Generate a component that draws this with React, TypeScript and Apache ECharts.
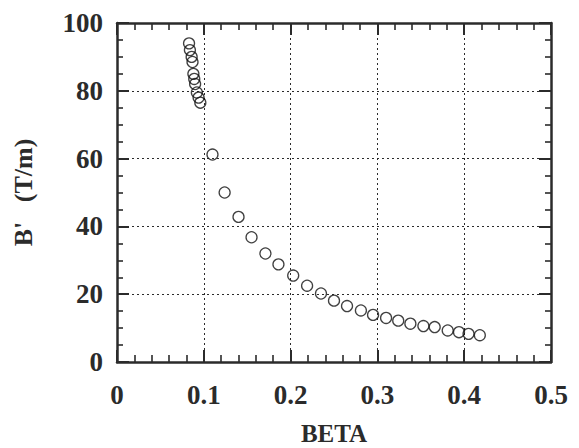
import React, { useEffect, useRef } from "react";
import * as echarts from "echarts";

const betaValues = [
  0.083, 0.084, 0.086, 0.087, 0.088, 0.089, 0.09, 0.092, 0.094, 0.096,
  0.11, 0.124, 0.14, 0.155, 0.171, 0.186, 0.203, 0.219, 0.235, 0.25,
  0.265, 0.281, 0.295, 0.31, 0.324, 0.338, 0.353, 0.366, 0.381, 0.394,
  0.405, 0.418,
];
const gradientValues = [
  94, 92, 90, 88.5, 85, 83.5, 82, 79.5, 78, 76.5,
  61.2, 50, 42.8, 36.8, 32, 28.8, 25.5, 22.5, 20.2, 18.1,
  16.5, 15.2, 13.9, 13, 12.2, 11.3, 10.6, 10.3, 9.3, 8.8,
  8.3, 7.9,
];
const xAxisTitle = "BETA";
const yAxisTitle = "B'   (T/m)";

const INK = "#2b2b2b";
const FONT = "'Liberation Serif', 'DejaVu Serif', serif";

export default function App() {
  const ref = useRef<HTMLDivElement>(null);
  useEffect(() => {
    if (!ref.current) return;
    const chart = echarts.init(ref.current, undefined, { renderer: "svg" });
    const frameLine = { show: true, onZero: false, lineStyle: { color: INK, width: 2.5 } };
    const majorTick = { show: true, inside: true, length: 12, lineStyle: { color: INK, width: 2 } };
    const minorTickX = { show: true, splitNumber: 5, length: 7, lineStyle: { color: INK, width: 1.6 } };
    const minorTickY = { show: true, splitNumber: 4, length: 6, lineStyle: { color: INK, width: 1.6 } };
    const labelStyle = { color: INK, fontFamily: FONT, fontWeight: "bold" as const, fontSize: 27 };
    const gridLine = { show: true, lineStyle: { color: INK, type: [2, 3] as any, width: 1 } };
    chart.setOption({
      animation: false,
      backgroundColor: "#ffffff",
      grid: { left: 117, right: 28, top: 23, bottom: 86, containLabel: false, outerBoundsMode: "none" },
      xAxis: [
        {
          type: "value",
          min: 0,
          max: 0.5,
          interval: 0.1,
          position: "bottom",
          axisLine: frameLine,
          axisTick: majorTick,
          minorTick: minorTickX,
          splitLine: gridLine,
          axisLabel: { ...labelStyle, margin: 19, formatter: (v: number) => (v === 0 ? "0" : String(+v.toFixed(1))) },
          name: xAxisTitle,
          nameLocation: "middle",
          nameGap: 59,
          nameTextStyle: { ...labelStyle, fontSize: 25 },
        },
        {
          type: "value",
          min: 0,
          max: 0.5,
          interval: 0.1,
          position: "top",
          axisLine: frameLine,
          axisTick: majorTick,
          minorTick: minorTickX,
          splitLine: { show: false },
          axisLabel: { show: false },
        },
      ],
      yAxis: [
        {
          type: "value",
          min: 0,
          max: 100,
          interval: 20,
          position: "left",
          axisLine: frameLine,
          axisTick: majorTick,
          minorTick: minorTickY,
          splitLine: gridLine,
          axisLabel: { ...labelStyle, margin: 14 },
          name: yAxisTitle,
          nameLocation: "middle",
          nameGap: 81,
          nameRotate: 90,
          nameTextStyle: { ...labelStyle, fontSize: 26 },
        },
        {
          type: "value",
          min: 0,
          max: 100,
          interval: 20,
          position: "right",
          axisLine: frameLine,
          axisTick: majorTick,
          minorTick: minorTickY,
          splitLine: { show: false },
          axisLabel: { show: false },
        },
      ],
      series: [
        {
          type: "scatter",
          xAxisIndex: 0,
          yAxisIndex: 0,
          symbol: "circle",
          symbolSize: 11,
          itemStyle: { color: "transparent", borderColor: "#111", borderWidth: 1.3 },
          data: betaValues.map((b, i) => [b, gradientValues[i]]),
        },
      ],
    });
    return () => chart.dispose();
  }, []);
  return <div ref={ref} style={{ width: 579, height: 448, position: "absolute", left: 0, top: 0 }} />;
}
